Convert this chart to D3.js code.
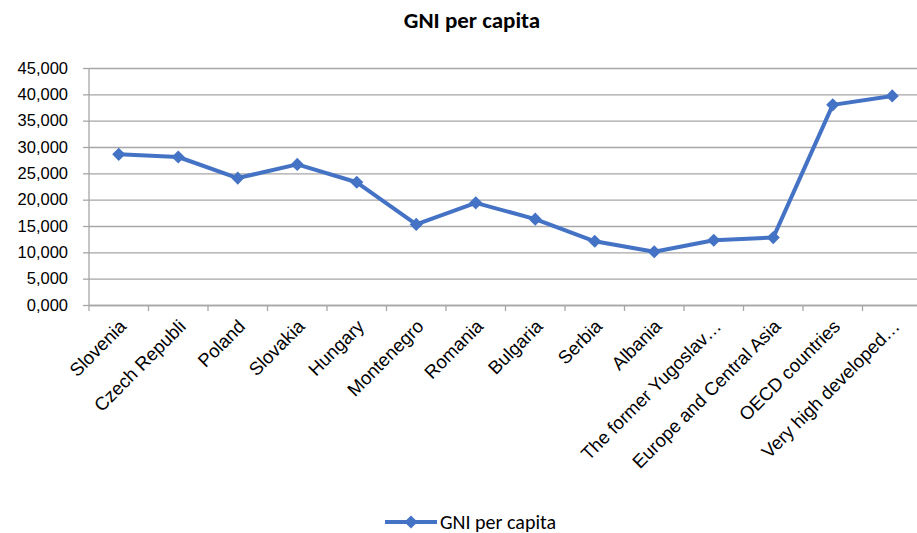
<!DOCTYPE html>
<html>
<head>
<meta charset="utf-8">
<style>
    body { margin: 0; background: #fff; }
    svg { font-family: Carlito, Calibri, Lato, sans-serif; }
    .y .domain { display: none; }
    .y .tick line { stroke: #a6a6a6; stroke-width: 1.3px; }
    .y .tick text { font-size: 16.5px; fill: #000; }
    .x .domain { stroke: #a6a6a6; stroke-width: 1.3px; }
</style>
</head>
<body>
<svg width="917" height="533"></svg>
<script src="https://d3js.org/d3.v7.min.js"></script>
<script>
    // chart values
    let categories = ["Slovenia", "Czech Republi", "Poland", "Slovakia", "Hungary", "Montenegro",
        "Romania", "Bulgaria", "Serbia", "Albania", "The former Yugoslav\u2026",
        "Europe and Central Asia", "OECD countries", "Very high developed\u2026"]
    let gni = [28600, 28100, 24100, 26700, 23300, 15300, 19400, 16300, 12100, 10100,
        12300, 12800, 38000, 39700]
    let yTicks = [0, 5000, 10000, 15000, 20000, 25000, 30000, 35000, 40000, 45000]
    let seriesName = "GNI per capita"

    let svg = d3.select("svg")
    let plot = { left: 89, right: 922, top: 68, bottom: 305 }
    let blue = "#4472C4"

    let x = d3.scaleBand()
        .domain(categories)
        .range([plot.left, plot.right])

    let y = d3.scaleLinear()
        .domain([0, 45000])
        .range([plot.bottom, plot.top])

    // gridlines + y labels ("0,000" style like the original)
    let yAxis = svg.append("g")
        .attr("class", "y axis")
        .attr("transform", `translate(${plot.left},0)`)
        .call(d3.axisLeft(y)
            .tickValues(yTicks)
            .tickSize(-(plot.right - plot.left))
            .tickPadding(21)
            .tickFormat(d => d == 0 ? "0,000" : d3.format(",")(d)))

    // small outside ticks on the left
    yAxis.selectAll(".tick").append("line")
        .attr("x1", -6).attr("x2", 0)
        .style("stroke", "#a6a6a6").style("stroke-width", "1.3px")

    // vertical axis line
    svg.append("line")
        .attr("x1", plot.left).attr("x2", plot.left)
        .attr("y1", plot.top).attr("y2", plot.bottom)
        .style("stroke", "#a6a6a6").style("stroke-width", "1.3px")

    // x axis, ticks on category boundaries
    let xAxis = svg.append("g")
        .attr("class", "x axis")
        .attr("transform", `translate(0,${plot.bottom})`)
        .call(d3.axisBottom(x).tickSize(0).tickFormat(""))
    xAxis.selectAll(".tick").remove()

    xAxis.selectAll(".bound")
        .data(categories)
        .join("line")
        .attr("x1", d => x(d)).attr("x2", d => x(d))
        .attr("y1", 0).attr("y2", 6)
        .style("stroke", "#a6a6a6").style("stroke-width", "1.3px")

    let cx = d => x(d) + x.bandwidth() / 2

    xAxis.selectAll(".lab")
        .data(categories)
        .join("text")
        .attr("class", "lab")
        .attr("transform", d => `translate(${cx(d) + 4},${18}) rotate(-45)`)
        .attr("text-anchor", "end")
        .attr("dy", "0.35em")
        .style("font-size", "18.5px")
        .style("fill", "#000")
        .text(d => d)

    // the line
    let line = d3.line()
        .x((d, i) => cx(categories[i]))
        .y(d => y(d))

    svg.append("path")
        .datum(gni)
        .attr("d", line)
        .style("fill", "none")
        .style("stroke", blue)
        .style("stroke-width", "4px")
        .style("stroke-linejoin", "round")

    let diamond = d3.symbol().type(d3.symbolDiamond2).size(110)

    svg.append("g")
        .selectAll("path")
        .data(gni)
        .join("path")
        .attr("d", diamond)
        .attr("transform", (d, i) => `translate(${cx(categories[i])},${y(d)})`)
        .style("fill", blue)

    // title
    svg.append("text")
        .attr("x", 472)
        .attr("y", 28)
        .attr("text-anchor", "middle")
        .style("font-size", "23px")
        .style("font-weight", "bold")
        .text(seriesName)

    // legend
    let lg = svg.append("g").attr("transform", "translate(385,522)")
    lg.append("line")
        .attr("x1", 0).attr("x2", 52)
        .style("stroke", blue).style("stroke-width", "4px")
    lg.append("path")
        .attr("d", diamond)
        .attr("transform", "translate(26,0)")
        .style("fill", blue)
    lg.append("text")
        .attr("x", 55)
        .attr("dy", "0.35em")
        .style("font-size", "20px")
        .text(seriesName)
</script>
</body>
</html>
